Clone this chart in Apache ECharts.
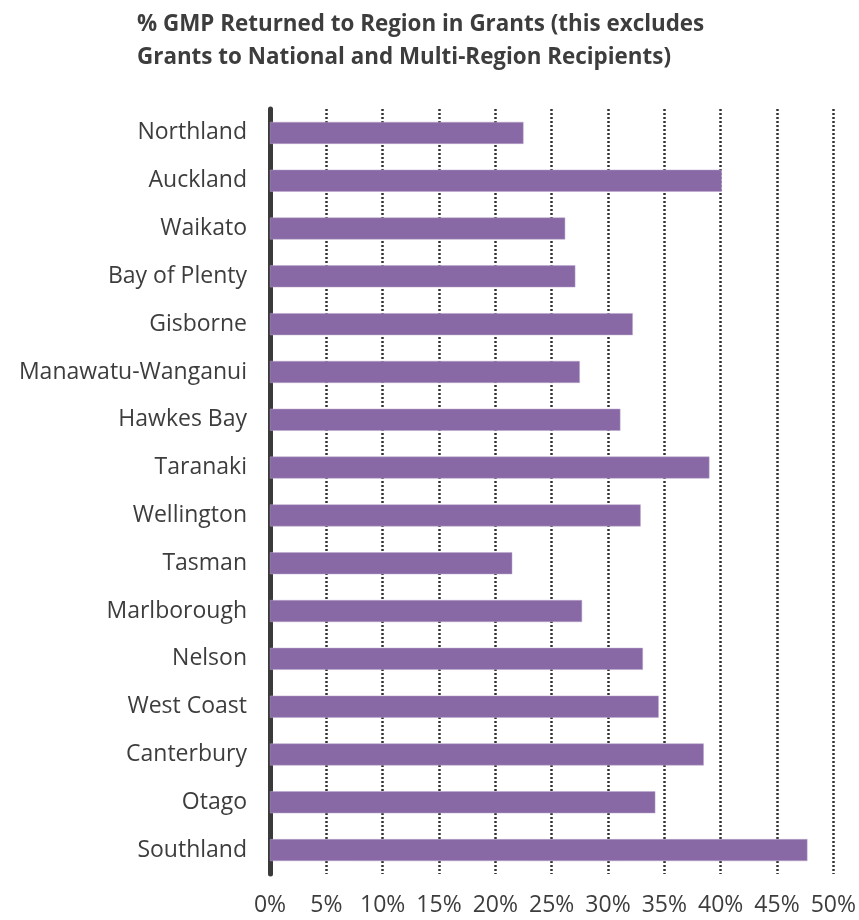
<!DOCTYPE html>
<html>
<head>
<meta charset="utf-8">
<script src="https://cdn.jsdelivr.net/npm/echarts@6/dist/echarts.min.js"></script>
<style>
  html, body { margin: 0; padding: 0; background: #fff; }
  #main { width: 859px; height: 920px; }
</style>
</head>
<body>
<div id="main"></div>
<script>
// 地区名称（从上到下）
var regions = ['Northland', 'Auckland', 'Waikato', 'Bay of Plenty', 'Gisborne',
  'Manawatu-Wanganui', 'Hawkes Bay', 'Taranaki', 'Wellington', 'Tasman',
  'Marlborough', 'Nelson', 'West Coast', 'Canterbury', 'Otago', 'Southland'];
// % GMP 返还比例
var pctValues = [22.5, 40.1, 26.2, 27.1, 32.2, 27.5, 31.1, 39.0, 32.9, 21.5,
  27.7, 33.1, 34.5, 38.5, 34.2, 47.7];
var titleLines = ['% GMP Returned to Region in Grants (this excludes',
  'Grants to National and Multi-Region Recipients)'];

var chart = echarts.init(document.getElementById('main'));
chart.setOption({
  animation: false,
  title: {
    text: titleLines.join('\n'),
    left: 132,
    top: 3,
    textStyle: {
      fontFamily: 'Open Sans',
      fontWeight: 'bold',
      fontSize: 22.4,
      lineHeight: 33,
      color: '#3d3d3d'
    }
  },
  grid: { left: 270, right: 25, top: 109, bottom: 46, containLabel: false },
  xAxis: {
    type: 'value',
    min: 0,
    max: 50,
    interval: 5,
    axisLine: { show: false },
    axisTick: { show: false },
    axisLabel: {
      formatter: '{value}%',
      fontFamily: 'Open Sans',
      fontSize: 23,
      color: '#3d3d3d',
      margin: 20
    },
    splitLine: {
      show: true,
      lineStyle: { color: '#333', width: 2.5, type: [2, 2] }
    }
  },
  yAxis: {
    type: 'category',
    data: regions,
    inverse: true,
    axisLine: { show: true, lineStyle: { color: '#3a3a3a', width: 5 } },
    axisTick: { show: false },
    axisLabel: {
      fontFamily: 'Open Sans',
      fontSize: 23,
      color: '#3d3d3d',
      margin: 23
    }
  },
  series: [{
    type: 'bar',
    data: pctValues,
    barCategoryGap: '54%',
    itemStyle: { color: '#8868a5', borderColor: '#b9a6cb', borderWidth: 0.5 }
  }]
});
</script>
</body>
</html>
